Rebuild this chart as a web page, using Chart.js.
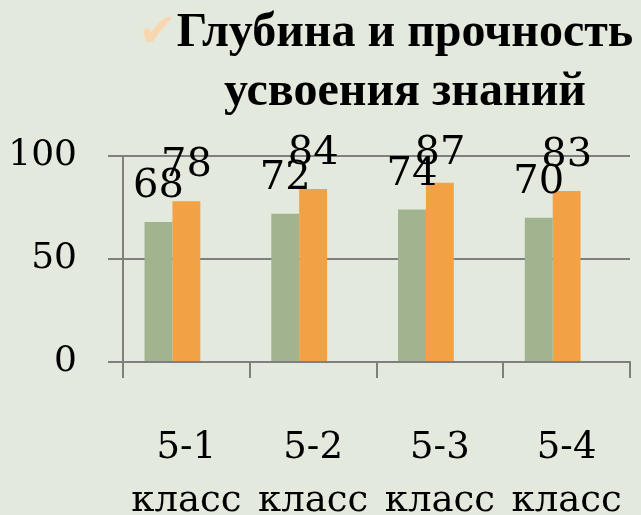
<!DOCTYPE html>
<html lang="ru">
<head>
<meta charset="utf-8">
<title>Глубина и прочность усвоения знаний</title>
<script src="https://cdn.jsdelivr.net/npm/chart.js@4/dist/chart.umd.min.js"></script>
<style>
    html, body {
        margin: 0;
        padding: 0;
        background: #e3e9dd;
    }
    #wrap {
        position: relative;
        width: 641px;
        height: 515px;
        overflow: hidden;
    }
    #mycanvas {
        position: absolute;
        left: 0;
        top: 0;
    }
    #heading {
        position: absolute;
        left: 170px;
        top: 0px;
        width: 470px;
        text-align: center;
        font-family: "Liberation Serif", "Times New Roman", serif;
        font-weight: bold;
        font-size: 48px;
        line-height: 59px;
        color: #000;
    }
    #heading .first {
        position: relative;
    }
    #heading .tick {
        position: absolute;
        right: 100%;
        top: -2px;
        font-family: "DejaVu Sans", sans-serif;
        font-weight: normal;
        font-size: 46px;
        color: #fad6b0;
    }
</style>
</head>
<body>
<div id="wrap">
    <canvas id="mycanvas" width="641" height="515"></canvas>
    <div id="heading"><span class="first"><span class="tick">✔</span>Глубина и прочность</span><br>усвоения знаний</div>
</div>

<script>
const classes = [['5-1', 'класс'], ['5-2', 'класс'], ['5-3', 'класс'], ['5-4', 'класс']];
const series1 = [68, 72, 74, 70];
const series2 = [78, 84, 87, 83];
const yTicks = [0, 50, 100];

const serif = '"DejaVu Serif", "Liberation Serif", serif';
const axisGray = '#7f7f7f';

// values written above each bar, kept from rising past the top gridline
const barValues = {
    id: 'barValues',
    afterDatasetsDraw(chart) {
        const ctx = chart.ctx;
        const minY = chart.chartArea.top + 8;
        ctx.save();
        ctx.font = '40px ' + serif;
        ctx.fillStyle = '#000';
        ctx.textAlign = 'center';
        ctx.textBaseline = 'alphabetic';
        chart.data.datasets.forEach((ds, i) => {
            const meta = chart.getDatasetMeta(i);
            meta.data.forEach((bar, j) => {
                if (ds.data[j] == null) return;
                ctx.fillText(ds.data[j], bar.x, Math.max(bar.y - 25, minY));
            });
        });
        ctx.restore();
    }
};

const chartData = {
    labels: classes,
    datasets: [
        {
            label: 'Ряд 1',
            backgroundColor: '#a2b38f',
            borderWidth: 0,
            data: series1
        },
        {
            label: 'Ряд 2',
            backgroundColor: '#f2a244',
            borderWidth: 0,
            data: series2
        },
        {
            label: 'Ряд 3',
            backgroundColor: '#8fa9c9',
            borderWidth: 0,
            data: []
        }
    ]
};

new Chart(document.getElementById('mycanvas'), {
    type: 'bar',
    data: chartData,
    options: {
        responsive: false,
        animation: false,
        events: [],
        layout: {
            padding: { left: 8, right: 11, top: 156, bottom: 0 }
        },
        datasets: {
            bar: { categoryPercentage: 0.66, barPercentage: 1.0 }
        },
        plugins: {
            legend: { display: false },
            title: { display: false },
            tooltip: { enabled: false }
        },
        scales: {
            x: {
                grid: {
                    offset: true,
                    drawOnChartArea: false,
                    color: axisGray,
                    lineWidth: 2,
                    tickLength: 16
                },
                border: { display: true, color: axisGray, width: 2 },
                ticks: {
                    color: '#000',
                    padding: 44,
                    maxRotation: 0,
                    autoSkip: false,
                    font: { family: serif, size: 37, lineHeight: 1.43 }
                },
                afterFit(scale) {
                    scale.paddingLeft = 0;
                    scale.paddingRight = 0;
                    scale.height = 153;
                }
            },
            y: {
                min: 0,
                max: 100,
                afterBuildTicks(axis) {
                    axis.ticks = yTicks.map(v => ({ value: v }));
                },
                grid: {
                    color: axisGray,
                    lineWidth: 2,
                    tickLength: 15
                },
                border: { display: true, color: axisGray, width: 2 },
                ticks: {
                    color: '#000',
                    padding: 31,
                    font: { family: serif, size: 36 }
                },
                afterFit(scale) {
                    scale.width = 115;
                }
            }
        }
    },
    plugins: [barValues]
});
</script>
</body>
</html>
